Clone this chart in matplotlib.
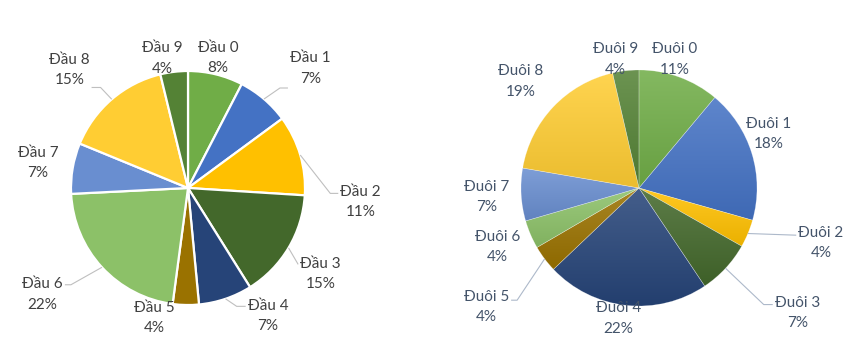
import matplotlib
matplotlib.use('Agg')
import matplotlib.pyplot as plt
import numpy as np
from matplotlib.colors import to_rgb

# ---------------- data ----------------
left_labels = ['Đầu 0', 'Đầu 1', 'Đầu 2', 'Đầu 3', 'Đầu 4',
               'Đầu 5', 'Đầu 6', 'Đầu 7', 'Đầu 8', 'Đầu 9']
left_values = [7.6, 7.3, 11.1, 15.1, 7.4, 3.6, 22.1, 7.0, 15.0, 3.8]

right_labels = ['Đuôi 0', 'Đuôi 1', 'Đuôi 2', 'Đuôi 3', 'Đuôi 4',
                'Đuôi 5', 'Đuôi 6', 'Đuôi 7', 'Đuôi 8', 'Đuôi 9']
right_values = [11.1, 18.3, 3.8, 7.4, 22.3, 3.7, 3.9, 7.2, 18.7, 3.6]

# ---------------- style ----------------
colors = ['#70AD47', '#4472C4', '#FFC000', '#43682B', '#264478',
          '#9A7200', '#8CC168', '#698ED0', '#FFCD33', '#548235']

# label layout: (clock angle in degrees from top, distance in radii)
left_label_pos = [(13, 1.14), (45.7, 1.46), (94.6, 1.48), (123, 1.35), (148, 1.29),
                  (194.7, 1.15), (233.8, 1.54), (279.5, 1.30), (314.8, 1.43), (349, 1.13)]
right_label_pos = [(15.7, 1.13), (67.3, 1.19), (106.8, 1.61), (128.3, 1.71), (189, 1.12),
                   (232, 1.64), (247.4, 1.30), (266.6, 1.29), (312, 1.35), (349.5, 1.11)]
# leader attachment (relative position on label box, elbow length px)
left_leaders = {1: ((0, 0.0), 8), 2: ((0, 0.72), 8), 3: ((0, 0.75), 0),
                4: ((0, 0.75), 9), 6: ((1, 0.75), 6), 8: ((1, 0.05), 9)}
right_leaders = {2: ((0, 0.7), 0), 3: ((0, 0.72), 9), 5: ((1, 0.68), 6)}

FONT = ['Lato', 'DejaVu Sans']
W, H = 859, 360
fig = plt.figure(figsize=(W / 100, H / 100), dpi=100)
fig.patch.set_facecolor('white')


def make_axes(x0, w, cx, cy, R):
    ax = fig.add_axes([x0 / W, 0, w / W, 1])
    return ax, (-cx / R, (w - cx) / R), (-(H - cy) / R, cy / R)


def draw_pie(ax, xlim, ylim, values, labels, label_pos, leaders,
             text_color, line_color, gradient):
    total = sum(values)
    wedges, _ = ax.pie(values, colors=colors, startangle=90, counterclock=False,
                       radius=1.0,
                       wedgeprops=dict(edgecolor='white' if not gradient else (1, 1, 1, 0.35),
                                       linewidth=1.6 if not gradient else 0.4))
    if gradient:
        for wdg, c in zip(wedges, colors):
            base = np.array(to_rgb(c))
            top = base + (1 - base) * 0.14
            bot = base * 0.92
            t = np.linspace(0, 1, 256)[:, None, None]
            img = top[None, None, :] * (1 - t) + bot[None, None, :] * t
            bb = wdg.get_path().get_extents()
            im = ax.imshow(img, extent=(bb.x0, bb.x1, bb.y0, bb.y1), origin='upper',
                           aspect='auto', interpolation='bilinear', zorder=0.5)
            im.set_clip_path(wdg)
            wdg.set_facecolor('none')
    ax.set_xlim(*xlim)
    ax.set_ylim(*ylim)
    ax.set_aspect('equal')
    ax.axis('off')

    texts = []
    for i, (lab, v) in enumerate(zip(labels, values)):
        ang, d = label_pos[i]
        a = np.deg2rad(ang)
        pct = f"{round(v / total * 100)}%"
        t = ax.text(d * np.sin(a), d * np.cos(a), f"{lab}\n{pct}", ha='center',
                    va='center', multialignment='center', fontsize=11,
                    family=FONT, color=text_color, linespacing=1.6, zorder=5)
        texts.append(t)
    return wedges, texts


def draw_leaders(ax, wedges, texts, leaders, color):
    renderer = fig.canvas.get_renderer()
    inv = ax.transData.inverted()
    for i, ((rx, ry), elbow) in leaders.items():
        w = wedges[i]
        mid = np.deg2rad((w.theta1 + w.theta2) / 2)
        p = np.array([np.cos(mid), np.sin(mid)])
        bb = texts[i].get_window_extent(renderer)
        pad = 2
        ax_pt = np.array([bb.x0 - pad + rx * (bb.width + 2 * pad),
                          bb.y0 - pad + ry * (bb.height + 2 * pad)])
        sign = -1 if rx == 0 else 1
        el_pt = ax_pt + np.array([sign * elbow, 0])
        a_d = inv.transform(ax_pt)
        e_d = inv.transform(el_pt)
        ax.plot([p[0], e_d[0], a_d[0]], [p[1], e_d[1], a_d[1]], color=color,
                lw=0.8, solid_capstyle='butt', zorder=3)


axL, xlL, ylL = make_axes(0, 430, 188, 188, 117)
wL, tL = draw_pie(axL, xlL, ylL, left_values, left_labels, left_label_pos,
                  left_leaders, '#404040', '#BFBFBF', False)
axR, xlR, ylR = make_axes(430, 429, 209, 188, 118)
wR, tR = draw_pie(axR, xlR, ylR, right_values, right_labels, right_label_pos,
                  right_leaders, '#44546A', '#ADB9CA', True)

fig.canvas.draw()
draw_leaders(axL, wL, tL, left_leaders, '#BFBFBF')
draw_leaders(axR, wR, tR, right_leaders, '#ADB9CA')
for ax, xl, yl in ((axL, xlL, ylL), (axR, xlR, ylR)):
    ax.set_xlim(*xl)
    ax.set_ylim(*yl)

fig.savefig('out.png', dpi=100, facecolor='white')
